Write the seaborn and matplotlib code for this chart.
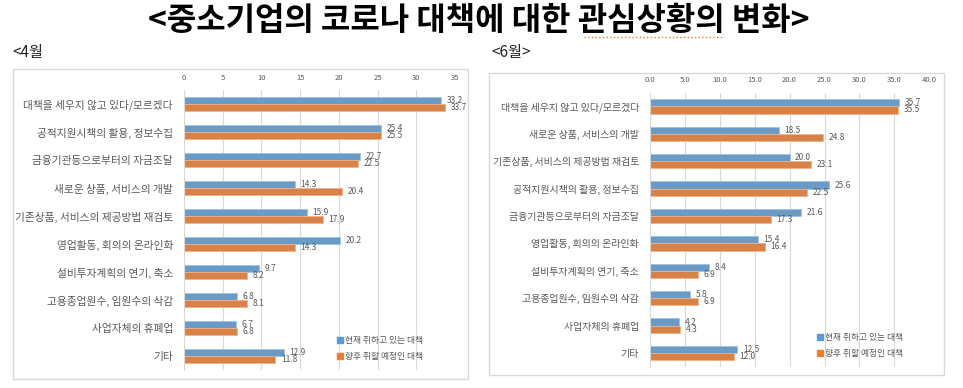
import numpy as np
import pandas as pd
import seaborn as sns
import matplotlib.pyplot as plt
from matplotlib.patches import Rectangle
from matplotlib.lines import Line2D

# =======================
# Data
# =======================
series_names = ['현재 취하고 있는 대책', '향후 취할 예정인 대책']

cats_apr = ['대책을 세우지 않고 있다/모르겠다', '공적지원시책의 활용, 정보수집',
            '금융기관등으로부터의 자금조달', '새로운 상품, 서비스의 개발',
            '기존상품, 서비스의 제공방법 재검토', '영업활동, 회의의 온라인화',
            '설비투자계획의 연기, 축소', '고용종업원수, 임원수의 삭감',
            '사업자체의 휴폐업', '기타']
now_apr = [33.2, 25.4, 22.7, 14.3, 15.9, 20.2, 9.7, 6.8, 6.7, 12.9]
plan_apr = [33.7, 25.5, 22.5, 20.4, 17.9, 14.3, 8.2, 8.1, 6.8, 11.8]

cats_jun = ['대책을 세우지 않고 있다/모르겠다', '새로운 상품, 서비스의 개발',
            '기존상품, 서비스의 제공방법 재검토', '공적지원시책의 활용, 정보수집',
            '금융기관등으로부터의 자금조달', '영업활동, 회의의 온라인화',
            '설비투자계획의 연기, 축소', '고용종업원수, 임원수의 삭감',
            '사업자체의 휴폐업', '기타']
now_jun = [35.7, 18.5, 20.0, 25.6, 21.6, 15.4, 8.4, 5.8, 4.2, 12.5]
plan_jun = [35.5, 24.8, 23.1, 22.5, 17.3, 16.4, 6.9, 6.9, 4.3, 12.0]

ticks_apr = [0, 5, 10, 15, 20, 25, 30, 35]
ticks_jun = [0, 5, 10, 15, 20, 25, 30, 35, 40]

colors = ['#5B9BD5', '#ED7D31']
edges = ['#9DC3E6', '#F4B183']
grey = '#595959'

sns.set_style('white')
plt.rcParams['font.family'] = ['Noto Sans CJK KR', 'DejaVu Sans']


def long_df(cats, now, plan):
    return pd.DataFrame({
        'cat': cats * 2,
        'val': now + plan,
        'series': [series_names[0]] * len(cats) + [series_names[1]] * len(cats),
    })


def draw_panel(ax, cats, now, plan, ticks, fmt, leg_anchor, catsize):
    df = long_df(cats, now, plan)
    sns.barplot(data=df, y='cat', x='val', hue='series', orient='h',
                palette=colors, width=0.52, ax=ax, legend=False,
                order=cats, hue_order=series_names)
    for cont, ec in zip(ax.containers, edges):
        for bar in cont:
            bar.set_edgecolor(ec)
            bar.set_linewidth(0.6)
        ax.bar_label(cont, fmt='%.1f', padding=4, fontsize=6, color=grey)
    ax.set_xlim(ticks[0], ticks[-1])
    ax.set_xticks(ticks)
    ax.set_xticklabels([fmt.format(t) for t in ticks])
    ax.xaxis.tick_top()
    ax.tick_params(axis='x', length=0, pad=6, labelsize=5.5, labelcolor=grey)
    ax.tick_params(axis='y', length=0, pad=8, labelsize=catsize, labelcolor=grey)
    ax.set_xlabel('')
    ax.set_ylabel('')
    ax.grid(axis='x', color='#D9D9D9', linewidth=0.8)
    ax.set_axisbelow(True)
    for s in ['top', 'right', 'bottom']:
        ax.spines[s].set_visible(False)
    ax.spines['left'].set_color('#D9D9D9')
    handles = [Line2D([], [], marker='s', linestyle='', markersize=4,
                      markerfacecolor=c, markeredgecolor=c) for c in colors]
    ax.legend(handles, series_names, frameon=False, fontsize=6.3,
              labelcolor=grey, handlelength=0.6, handletextpad=0.3,
              labelspacing=0.8, loc='upper left', bbox_to_anchor=leg_anchor,
              bbox_transform=ax.figure.transFigure, borderaxespad=0,
              borderpad=0)


fig = plt.figure(figsize=(9.63, 3.88), dpi=100)
W, H = 963, 388

ax1 = fig.add_axes([184 / W, 1 - 370 / H, 271 / W, 280 / H])
ax2 = fig.add_axes([650 / W, 1 - 366.7 / H, 279.3 / W, 274 / H])

draw_panel(ax1, cats_apr, now_apr, plan_apr, ticks_apr, '{:d}',
           (337 / W, 1 - 336 / H), 7.7)
draw_panel(ax2, cats_jun, now_jun, plan_jun, ticks_jun, '{:.1f}',
           (817 / W, 1 - 333 / H), 7.2)

# panel frames
fig.add_artist(Rectangle((13 / W, 1 - 379 / H), 455 / W, 310 / H,
                         transform=fig.transFigure, fill=False,
                         edgecolor='#D9D9D9', linewidth=1))
fig.add_artist(Rectangle((489 / W, 1 - 375 / H), 455 / W, 302 / H,
                         transform=fig.transFigure, fill=False,
                         edgecolor='#D9D9D9', linewidth=1))

# titles
fig.text(479 / W, 1 - 21 / H, '<중소기업의 코로나 대책에 대한 관심상황의 변화>',
         ha='center', va='center', fontsize=23, fontweight='bold', color='black')
fig.add_artist(Line2D([584 / W, 724 / W], [1 - 37 / H, 1 - 37 / H],
                      transform=fig.transFigure, color='#ED7D31',
                      linestyle=':', linewidth=1))
fig.text(12 / W, 1 - 52 / H, '<4월', ha='left', va='center', fontsize=11)
fig.text(491 / W, 1 - 52 / H, '<6월>', ha='left', va='center', fontsize=11)

plt.savefig('out.png', dpi=100)
plt.close()
